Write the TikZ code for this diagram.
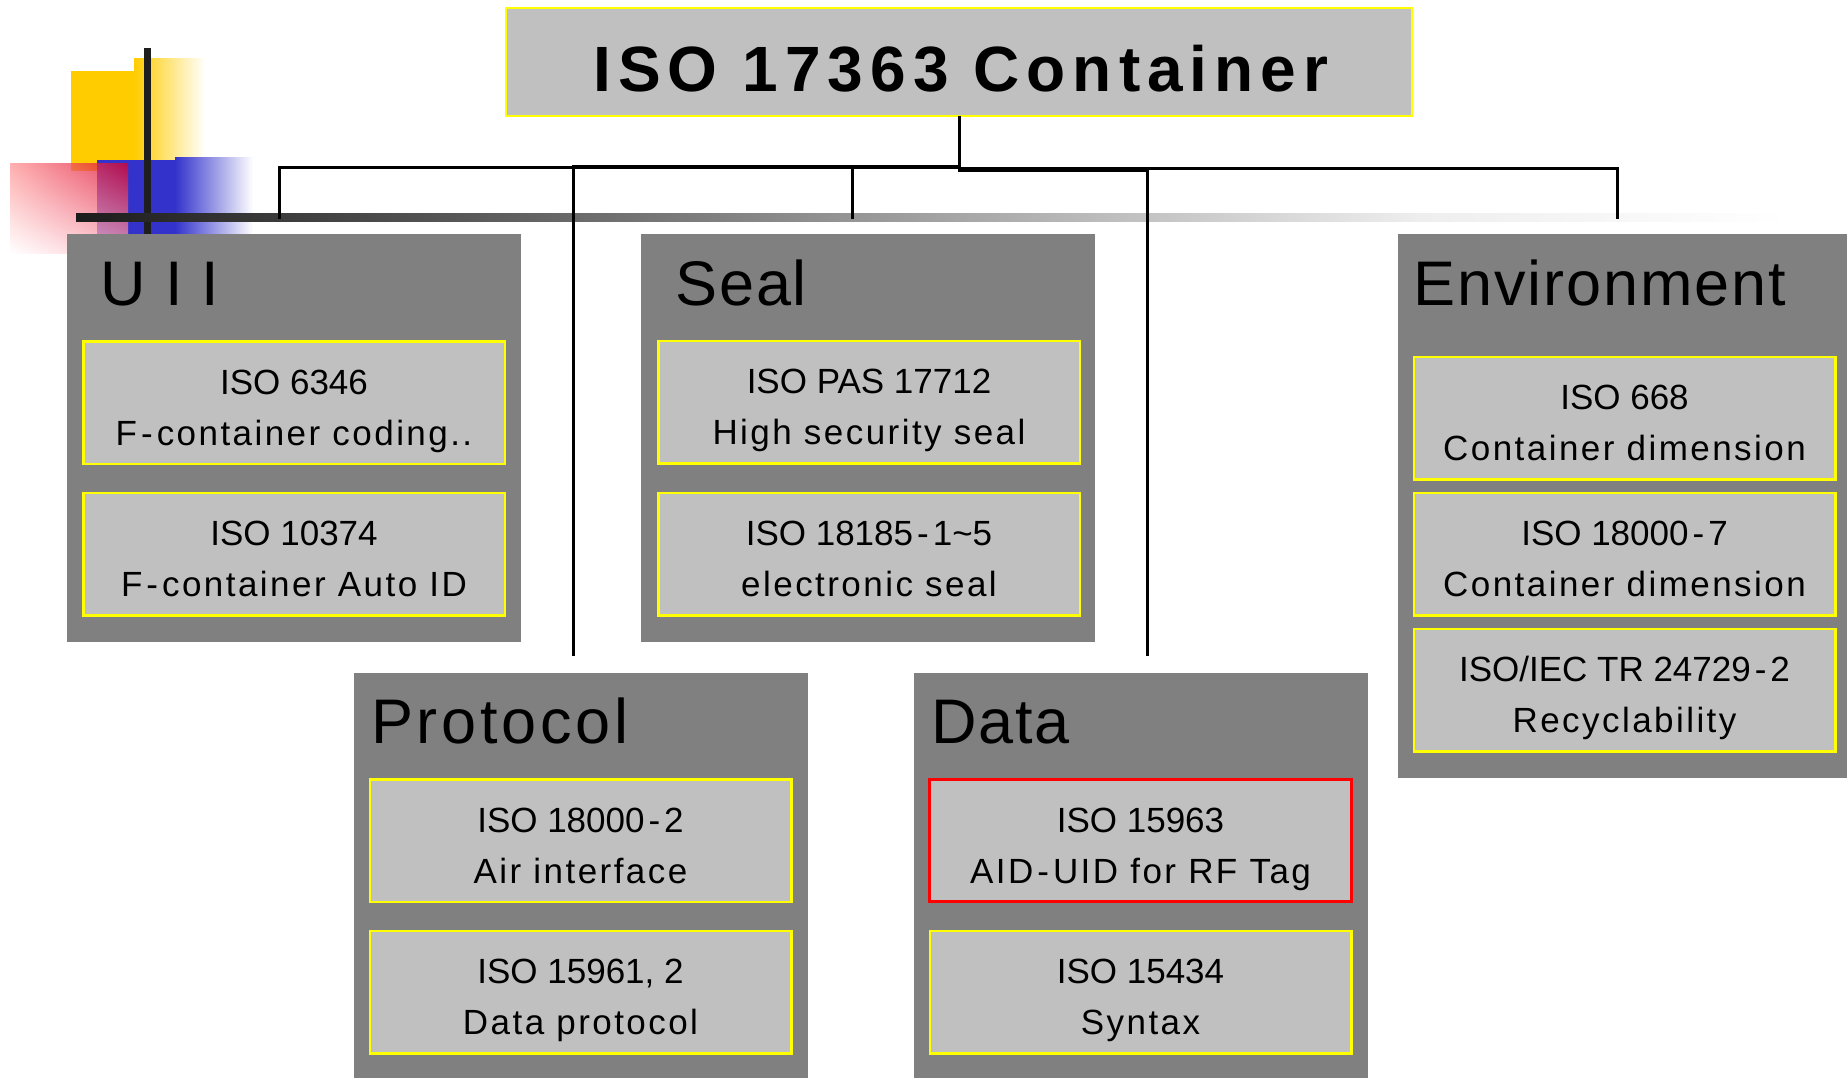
\documentclass[tikz,border=0pt]{standalone}
\usepackage{fontspec}
\usetikzlibrary{shadings}
\setmainfont{Liberation Sans}
\newfontfamily\plainf{Liberation Sans}
\newfontfamily\spacedf[LetterSpace=7]{Liberation Sans}
\newfontfamily\grpf[LetterSpace=3]{Liberation Sans}
\newfontfamily\grpwf[LetterSpace=6]{Liberation Sans}
\newfontfamily\titlef[LetterSpace=11]{Liberation Sans}
\newcommand\hy{\kern4pt-\kern4pt}
\definecolor{grpgray}{RGB}{128,128,128}
\definecolor{ingray}{RGB}{192,192,192}
\definecolor{ylw}{RGB}{255,255,0}
\definecolor{gold}{RGB}{255,204,0}
\definecolor{dblue}{RGB}{51,51,204}
\definecolor{barA}{RGB}{28,28,28}
\definecolor{barB}{RGB}{238,238,238}
\definecolor{redUL}{RGB}{255,150,150}
\definecolor{redUR}{RGB}{220,0,40}
\definecolor{redLR}{RGB}{255,180,190}
\definecolor{linegray}{RGB}{30,30,30}
\newcommand\isobox[5][]{%
  \node[inbox,#1] (#2) at #3 {};
  \node[lineA, anchor=base] (#2a) at ([yshift=8.5pt]#2.center) {#4};
  \node[lineB, anchor=base] (#2b) at ([yshift=-42.5pt]#2.center) {#5};}
\begin{document}
\begin{tikzpicture}[x=1pt,y=-1pt,
  grp/.style={fill=grpgray, inner sep=0pt, outer sep=0pt},
  inbox/.style={fill=ingray, draw=ylw, line width=2.5pt, minimum width=421.5pt, minimum height=122.5pt, inner sep=0pt},
  lineA/.style={inner sep=0pt, font=\plainf\fontsize{35}{40}\selectfont},
  lineB/.style={inner sep=0pt, font=\spacedf\fontsize{35}{40}\selectfont},
  gtitle/.style={inner sep=0pt, font=\grpf\fontsize{63}{70}\selectfont},
  gtitlew/.style={inner sep=0pt, font=\grpwf\fontsize{63}{70}\selectfont},
  conn/.style={line width=3pt, draw=black},
]
\useasboundingbox (0,0) rectangle (1847,1078);
\fill[white] (0,0) rectangle (1847,1078);
% decoration
\fill[gold] (71,71) rectangle (134,171);
\shade[left color=gold, right color=white] (134,59) rectangle (205,160);
\fill[dblue] (97,160) rectangle (176,234);
\shade[left color=dblue, right color=white] (175,158) rectangle (253,234);
\shade[opacity=0.75, upper left=redUL, upper right=redUR, lower left=white, lower right=redLR] (10,164) rectangle (128,253);
\fill[linegray] (144,48) rectangle (151,234);
\shade[left color=barA, right color=barB] (76,214) rectangle (1420,222);
\shade[left color=barB, right color=white] (1420,214) rectangle (1790,222);
% title
\node[fill=ingray, draw=ylw, line width=2pt, outer sep=0pt, minimum width=906pt, minimum height=108pt, inner sep=0pt, anchor=north west] (title) at (506,8) {};
\node[inner sep=0pt, anchor=base, font=\titlef\bfseries\fontsize{64}{70}\selectfont] (titletext) at (961,92) {ISO 17363 Container};
% connectors
\coordinate (uiiend) at (279.5,219);
\coordinate (protend) at (573.5,656);
\coordinate (sealend) at (852.5,219);
\coordinate (dataend) at (1147,656);
\coordinate (envend) at (1617,219);
\draw[conn] (title.south) |- ([yshift=51pt]uiiend) -- (uiiend);
\draw[conn] (title.south) |- ([yshift=489.5pt]protend) -- (protend);
\draw[conn] (title.south) |- ([yshift=52.5pt]sealend) -- (sealend);
\draw[conn] (title.south) |- ([yshift=485.5pt]dataend) -- (dataend);
\draw[conn] (title.south) |- ([yshift=50.5pt]envend) -- (envend);
% groups
\node[grp, minimum width=454pt, minimum height=408pt, anchor=north west] (uii) at (67,234) {};
\node[grp, minimum width=454pt, minimum height=408pt, anchor=north west] (seal) at (641,234) {};
\node[grp, minimum width=449pt, minimum height=544pt, anchor=north west] (env) at (1398,234) {};
\node[grp, minimum width=454pt, minimum height=405pt, anchor=north west] (prot) at (354,673) {};
\node[grp, minimum width=454pt, minimum height=405pt, anchor=north west] (data) at (914,673) {};
\node[gtitle, anchor=base west] (uiit) at (100,305) {U I I};
\node[gtitle, anchor=base west] (sealt) at (675,305) {Seal};
\node[gtitle, anchor=base west] (envt) at (1413,305) {Environment};
\node[gtitlew, anchor=base west] (prott) at (371,743) {Protocol};
\node[gtitle, anchor=base west] (datat) at (931,743) {Data};
% standards
\isobox{u1}{(294,402.5)}{ISO 6346}{F\hy container coding..}
\isobox{u2}{(294,554)}{ISO 10374}{F\hy container Auto ID}
\isobox{s1}{(869,402)}{ISO PAS 17712}{High security seal}
\isobox{s2}{(869,554)}{ISO 18185\hy 1\textasciitilde 5}{electronic seal}
\isobox{e1}{(1624.5,418)}{ISO 668}{Container dimension}
\isobox{e2}{(1624.5,554)}{ISO 18000\hy 7}{Container dimension}
\isobox{e3}{(1624.5,690)}{ISO/IEC TR 24729\hy 2}{Recyclability}
\isobox{p1}{(580.5,840.5)}{ISO 18000\hy 2}{Air interface}
\isobox{p2}{(580.5,992)}{ISO 15961, 2}{Data protocol}
\isobox[draw=red, line width=3pt]{d1}{(1140.5,840.5)}{ISO 15963}{AID\hy UID for RF Tag}
\isobox{d2}{(1140.5,992)}{ISO 15434}{Syntax}
\end{tikzpicture}
\end{document}
